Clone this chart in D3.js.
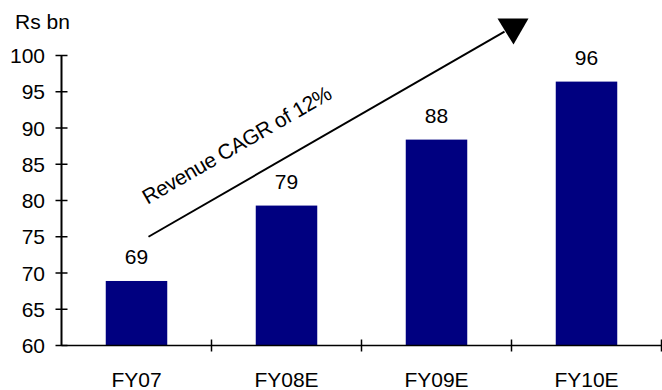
<!DOCTYPE html>
<html>
<head>
<meta charset="utf-8">
<script src="https://cdn.jsdelivr.net/npm/d3@7"></script>
<style>
  html, body { margin: 0; padding: 0; background: #fff; }
  svg { display: block; font-family: "Liberation Sans", Arial, sans-serif; }
</style>
</head>
<body>
<svg id="chart" width="662" height="390"></svg>
<script>
// Revenue by fiscal year, Rs bn
const categories = ["FY07", "FY08E", "FY09E", "FY10E"];
const revenue = [68.9, 79.3, 88.4, 96.4];
const yTicks = [60, 65, 70, 75, 80, 85, 90, 95, 100];
const unitLabel = "Rs bn";
const cagrLabel = "Revenue CAGR of 12%";

const svg = d3.select("#chart");
const fontSize = 21;

const x = d3.scaleBand()
  .domain(categories)
  .range([61.5, 661.5])
  .paddingInner(0.59)
  .paddingOuter(0.295);

const y = d3.scaleLinear()
  .domain([60, 100])
  .range([345.5, 55.5]);

// bars
svg.append("g")
  .selectAll("rect")
  .data(categories)
  .join("rect")
  .attr("x", d => x(d))
  .attr("width", x.bandwidth())
  .attr("y", (d, i) => y(revenue[i]))
  .attr("height", (d, i) => y(60) - y(revenue[i]))
  .attr("fill", "#000080");

// value labels
svg.append("g")
  .selectAll("text")
  .data(categories)
  .join("text")
  .attr("x", d => x(d) + x.bandwidth() / 2)
  .attr("y", (d, i) => y(revenue[i]) - 17)
  .attr("text-anchor", "middle")
  .attr("font-size", fontSize)
  .attr("fill", "#000")
  .text((d, i) => d3.format(".0f")(revenue[i]));

// y axis: line crossing ticks
const yAxis = svg.append("g");
yAxis.append("line")
  .attr("x1", 61.5).attr("x2", 61.5)
  .attr("y1", y(100)).attr("y2", y(60))
  .attr("stroke", "#000").attr("stroke-width", 2);
yAxis.selectAll("line.tick")
  .data(yTicks)
  .join("line")
  .attr("class", "tick")
  .attr("x1", 55.5).attr("x2", 67.5)
  .attr("y1", d => y(d)).attr("y2", d => y(d))
  .attr("stroke", "#000").attr("stroke-width", 1.5);
yAxis.selectAll("text")
  .data(yTicks)
  .join("text")
  .attr("x", 45)
  .attr("y", d => y(d))
  .attr("dy", "0.36em")
  .attr("text-anchor", "end")
  .attr("font-size", fontSize)
  .text(d => d);

// x axis: baseline with ticks at band boundaries
const xAxis = svg.append("g");
xAxis.append("line")
  .attr("x1", 61.5).attr("x2", 662)
  .attr("y1", y(60)).attr("y2", y(60))
  .attr("stroke", "#000").attr("stroke-width", 1.5);
const step = x.step();
xAxis.selectAll("line.tick")
  .data(categories)
  .join("line")
  .attr("class", "tick")
  .attr("x1", d => x(d) - x.paddingOuter() * step + step)
  .attr("x2", d => x(d) - x.paddingOuter() * step + step)
  .attr("y1", y(60) - 6).attr("y2", y(60) + 6)
  .attr("stroke", "#000").attr("stroke-width", 1.5);
xAxis.selectAll("text")
  .data(categories)
  .join("text")
  .attr("x", d => x(d) + x.bandwidth() / 2)
  .attr("y", 387)
  .attr("text-anchor", "middle")
  .attr("font-size", fontSize)
  .text(d => d);

// unit label
svg.append("text")
  .attr("x", 15).attr("y", 29)
  .attr("font-size", fontSize)
  .text(unitLabel);

// growth arrow annotation
const x0 = x("FY07") + x.bandwidth() / 2 + 12, y0 = y(75.0);
const x1 = x("FY10E") + x.bandwidth() / 2 - 82, y1 = y(103.3);
svg.append("line")
  .attr("x1", x0).attr("y1", y0)
  .attr("x2", x1).attr("y2", y1)
  .attr("stroke", "#000").attr("stroke-width", 2);
svg.append("path")
  .attr("d", d3.line()([[x1 - 7, y1 - 13], [x1 + 24, y1 - 13], [x1 + 9, y1 + 13]]) + "Z")
  .attr("fill", "#000");

const angle = Math.atan2(y1 - y0, x1 - x0) * 180 / Math.PI;
svg.append("text")
  .attr("transform", `translate(${x0 - 1},${y0 - 32}) rotate(${angle})`)
  .attr("font-size", fontSize)
  .attr("letter-spacing", -0.4)
  .text(cagrLabel);
</script>
</body>
</html>
